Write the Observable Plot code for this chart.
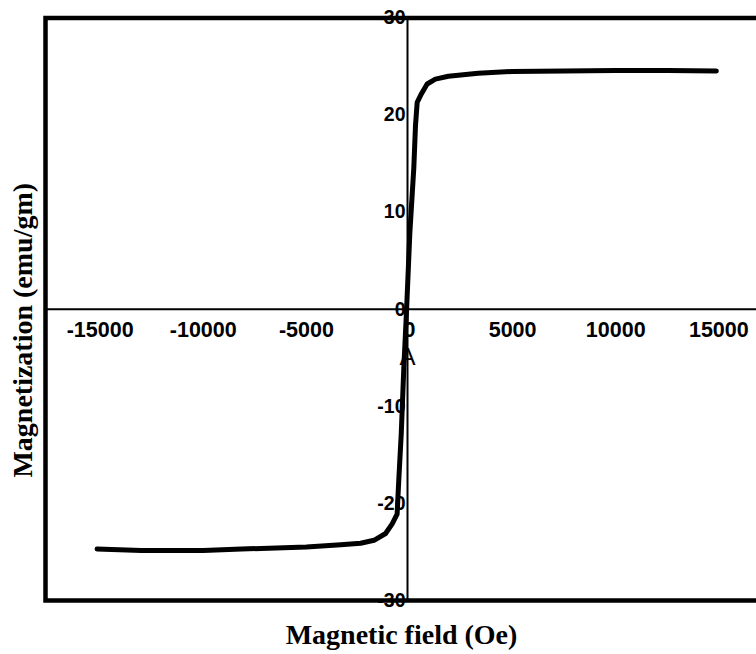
<!DOCTYPE html>
<html><head><meta charset="utf-8">
<script src="https://cdn.jsdelivr.net/npm/d3@7"></script>
<script src="https://cdn.jsdelivr.net/npm/@observablehq/plot@0.6"></script>
<style>
html,body{margin:0;padding:0;background:#fff;overflow:hidden;width:756px;height:654px}
#chart svg{max-width:none !important;display:block}
</style>
</head><body><div id="chart"></div>
<script>
const field = [-15150, -13000, -10000, -8150, -5000, -3330, -2370, -1720, -1160, -840, -600, -520, -400, -275, -145, 15, 210, 290, 372, 580, 855, 1255, 1885, 3330, 4980, 7500, 10000, 12500, 14880];
const magnetization = [-24.7, -24.85, -24.85, -24.7, -24.5, -24.25, -24.1, -23.8, -23.1, -22.1, -21.1, -17.6, -12.8, -6.0, -0.2, 7.8, 14.6, 18.9, 21.3, 22.2, 23.2, 23.7, 24.0, 24.3, 24.5, 24.55, 24.6, 24.6, 24.55];
const xTicks = [-15000, -10000, -5000, 0, 5000, 10000, 15000];
const yTicks = [-30, -20, -10, 0, 10, 20, 30];
const xTitle = "Magnetic field (Oe)";
const yTitle = "Magnetization (emu/gm)";
const marker = "A";

const curve = field.map((f, i) => ({field: f, m: magnetization[i]}));
const sans = "Liberation Sans, Arial, sans-serif";
const serif = "Liberation Serif, Times New Roman, serif";

const chart = Plot.plot({
  width: 780, height: 654,
  marginLeft: 45, marginRight: 7, marginTop: 17.5, marginBottom: 54,
  x: {domain: [-17650, 17650], axis: null},
  y: {domain: [-30, 30], axis: null},
  style: {background: "#fff", fontFamily: sans, maxWidth: "none", overflow: "visible"},
  marks: [
    Plot.ruleY([0], {stroke: "#000", strokeWidth: 2}),
    Plot.ruleX([0], {stroke: "#000", strokeWidth: 2, dx: -2}),
    Plot.text(xTicks, {x: d => d, y: 0, dy: 21, text: d => String(d), fontSize: 21.5, fontWeight: "bold", textAnchor: "middle", fill: "#000"}),
    Plot.text(yTicks, {x: 0, y: d => d, dx: -4, text: d => String(d), fontSize: 19.5, fontWeight: "bold", textAnchor: "end", fill: "#000"}),
    Plot.text([marker], {x: 0, y: -5, dx: -2, text: d => d, fontSize: 24, fill: "#000"}),
    Plot.line(curve, {x: "field", y: "m", stroke: "#000", strokeWidth: 5, strokeLinejoin: "round", strokeLinecap: "round"}),
    Plot.frame({stroke: "#000", strokeWidth: 4.5}),
    Plot.text([xTitle], {frameAnchor: "bottom", dy: 43, dx: -8, textAnchor: "middle", text: d => d, fontFamily: serif, fontWeight: "bold", fontSize: 28, fill: "#000"}),
    Plot.text([yTitle], {frameAnchor: "left", rotate: -90, dx: -22, dy: 21, textAnchor: "middle", text: d => d, fontFamily: serif, fontWeight: "bold", fontSize: 28, fill: "#000"})
  ]
});
document.getElementById("chart").appendChild(chart);
</script>
</body></html>
